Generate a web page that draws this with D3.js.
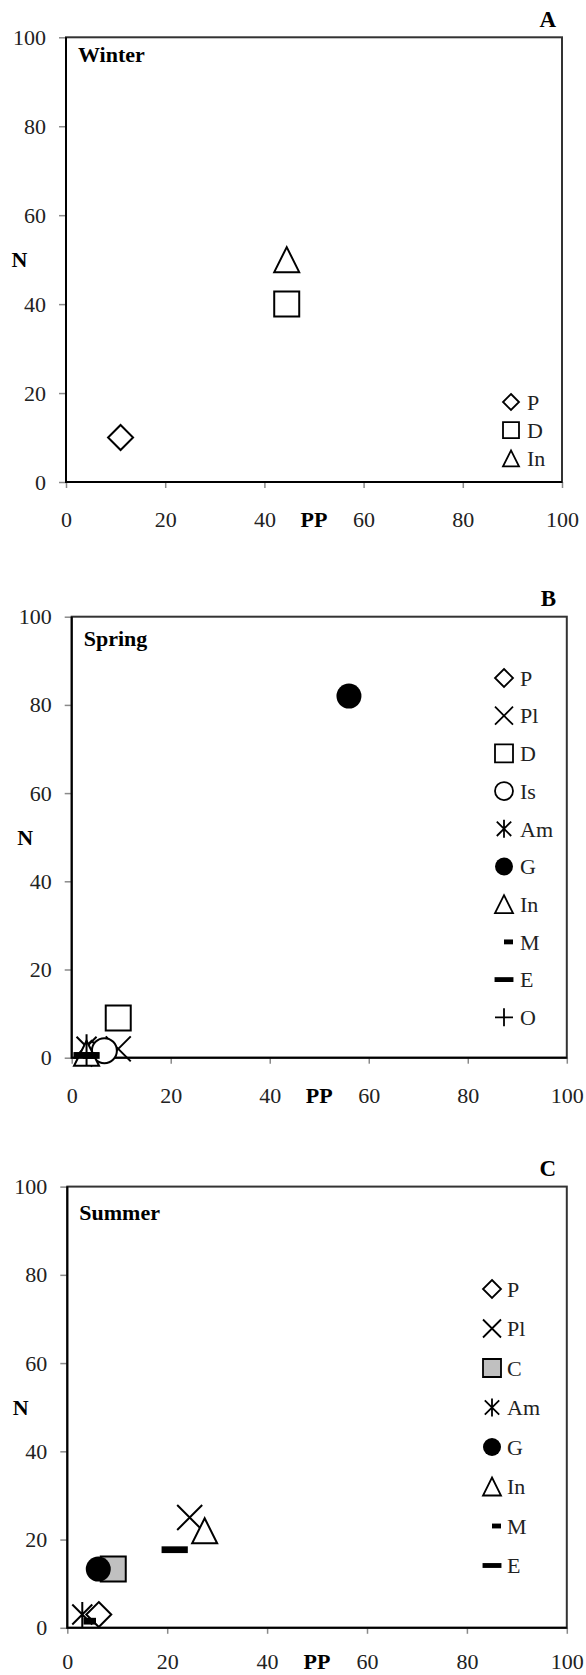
<!DOCTYPE html>
<html>
<head>
<meta charset="utf-8">
<script src="https://cdn.jsdelivr.net/npm/d3@7"></script>
<style>
  body { margin: 0; background: #fff; }
  text { font-family: "Liberation Serif", "Times New Roman", serif; }
</style>
</head>
<body>
<div id="chart"></div>
<script>
// both axes run 0..100
const ticks = [0, 20, 40, 60, 80, 100];

// A - winter
const winterGroups = ["P", "D", "In"];
const winterPP = [11, 44.5, 44.5];
const winterN  = [10, 40, 50];

// B - spring
const springGroups = ["P", "Pl", "D", "Is", "Am", "G", "In", "M", "E", "O"];
const springPP = [4, 9.4, 9.4, 6.6, 3, 56, 3, 3.5, 3, 3];
const springN  = [1, 2, 9, 1.6, 2.5, 82, 1, 0.5, 0.5, 1];

// C - summer
const summerGroups = ["P", "Pl", "C", "Am", "G", "In", "M", "E"];
const summerPP = [6.3, 24.5, 9.2, 3, 6.2, 27.5, 4.5, 21.5];
const summerN  = [3, 25, 13.3, 3, 13.3, 22, 1.5, 17.7];

// marker used for each group
const markerOf = {
    P: "diamond", Pl: "x", D: "square", Is: "circle", Am: "asterisk",
    G: "dot", In: "triangle", M: "dashShort", E: "dashLong", O: "plus", C: "graySquare"
};

// layout of the three panels
const panels = [
    { letter: "A", season: "Winter", groups: winterGroups, pp: winterPP, n: winterN,
      box: [66, 37.3, 562, 482], seasonDy: 25, xLabelDy: 45,
      legend: { x: 511, y: 402, dy: 28.2, size: 16, tx: 527 } },
    { letter: "B", season: "Spring", groups: springGroups, pp: springPP, n: springN,
      box: [71.7, 616.7, 566.8, 1057.7], seasonDy: 29, xLabelDy: 45,
      legend: { x: 504, y: 678, dy: 37.7, size: 18, tx: 520 } },
    { letter: "C", season: "Summer", groups: summerGroups, pp: summerPP, n: summerN,
      box: [67.3, 1186.6, 566.8, 1627.8], seasonDy: 33, xLabelDy: 41,
      legend: { x: 492, y: 1289, dy: 39.5, size: 18, tx: 507 } }
];

const fontSize = 22;

// path + fill for a marker of size s centred on 0,0
function marker(type, s) {
    const h = s / 2;
    const ring = `M${h},0A${h},${h} 0 1,1 ${-h},0A${h},${h} 0 1,1 ${h},0Z`;
    const dash = (w, t) => `M${-w / 2},${-t / 2}h${w}v${t}h${-w}Z`;
    switch (type) {
        case "diamond":    return { d: `M0,${-h}L${h},0L0,${h}L${-h},0Z`, fill: "#fff" };
        case "square":     return { d: `M${-h},${-h}H${h}V${h}H${-h}Z`, fill: "#fff" };
        case "graySquare": return { d: `M${-h},${-h}H${h}V${h}H${-h}Z`, fill: "#c0c0c0" };
        case "triangle":   return { d: `M0,${-h}L${h},${h}L${-h},${h}Z`, fill: "#fff" };
        case "circle":     return { d: ring, fill: "#fff" };
        case "dot":        return { d: ring, fill: "#000", stroke: "none" };
        case "x":          return { d: `M${-h},${-h}L${h},${h}M${-h},${h}L${h},${-h}`, fill: "none" };
        case "asterisk": {
            const a = h * 0.8;
            return { d: `M${-a},${-a}L${a},${a}M${-a},${a}L${a},${-a}M0,${-h}V${h}`, fill: "none" };
        }
        case "plus":       return { d: `M${-h},0H${h}M0,${-h}V${h}`, fill: "none" };
        case "dashShort":  return { d: dash(s * 0.5, s * 0.27), fill: "#000", stroke: "none" };
        case "dashLong":   return { d: dash(s * 1.05, s * 0.27), fill: "#000", stroke: "none" };
    }
}

function addMarker(g, type, cx, cy, s, sw) {
    const m = marker(type, s);
    g.append("path")
        .attr("transform", `translate(${cx},${cy})`)
        .attr("d", m.d)
        .attr("fill", m.fill)
        .attr("stroke", m.stroke || "#000")
        .attr("stroke-width", sw)
        .attr("stroke-linejoin", "miter");
}

const svg = d3.select("#chart").append("svg")
    .attr("width", 586)
    .attr("height", 1675);

panels.forEach(p => {
    const [L, T, R, B] = p.box;
    const x = d3.scaleLinear().domain([0, 100]).range([L, R]);
    const y = d3.scaleLinear().domain([0, 100]).range([B, T]);
    const g = svg.append("g");

    // y axis ticks + labels
    g.append("g")
        .attr("transform", `translate(${L},0)`)
        .call(d3.axisLeft(y).tickValues(ticks).tickSize(7).tickPadding(13))
        .attr("font-family", "Liberation Serif, Times New Roman, serif")
        .attr("font-size", fontSize)
        .call(a => a.select(".domain").remove())
        .call(a => a.selectAll("line").attr("stroke", "#8a8a8a").attr("stroke-width", 1.5))
        .call(a => a.selectAll("text").attr("fill", "#222"));

    // x axis ticks + labels (baseline sits xLabelDy below the axis)
    g.append("g")
        .attr("transform", `translate(0,${B})`)
        .call(d3.axisBottom(x).tickValues(ticks).tickSize(6).tickPadding(p.xLabelDy - 6 - 0.71 * fontSize))
        .attr("font-family", "Liberation Serif, Times New Roman, serif")
        .attr("font-size", fontSize)
        .call(a => a.select(".domain").remove())
        .call(a => a.selectAll("line").attr("stroke", "#8a8a8a").attr("stroke-width", 1.5))
        .call(a => a.selectAll("text").attr("fill", "#222"));

    // plot frame, left and bottom drawn a bit darker
    g.append("rect")
        .attr("x", L).attr("y", T)
        .attr("width", R - L).attr("height", B - T)
        .attr("fill", "none")
        .attr("stroke", "#333")
        .attr("stroke-width", 2);
    g.append("path")
        .attr("d", `M${L},${T}V${B}H${R}`)
        .attr("fill", "none")
        .attr("stroke", "#000")
        .attr("stroke-width", 2);

    // axis titles
    g.append("text")
        .attr("x", x(50)).attr("y", B + p.xLabelDy)
        .attr("text-anchor", "middle")
        .attr("font-weight", "bold")
        .attr("font-size", fontSize)
        .text("PP");
    g.append("text")
        .attr("x", L - 46.5).attr("y", (T + B) / 2)
        .attr("dy", "0.35em")
        .attr("text-anchor", "middle")
        .attr("font-weight", "bold")
        .attr("font-size", fontSize)
        .text("N");

    // panel letter and season
    g.append("text")
        .attr("x", 556).attr("y", T - 10.5)
        .attr("text-anchor", "end")
        .attr("font-weight", "bold")
        .attr("font-size", 23)
        .text(p.letter);
    g.append("text")
        .attr("x", L + 12).attr("y", T + p.seasonDy)
        .attr("font-weight", "bold")
        .attr("font-size", fontSize)
        .text(p.season);

    // points, in series order (later ones on top)
    p.groups.forEach((name, i) => {
        addMarker(g, markerOf[name], x(p.pp[i]), y(p.n[i]), 25, 2);
    });

    // legend
    const lg = p.legend;
    p.groups.forEach((name, i) => {
        const cy = lg.y + i * lg.dy;
        const type = markerOf[name];
        const shift = type === "dashShort" ? lg.size * 0.25 : 0;
        addMarker(g, type, lg.x + shift, cy, lg.size, 1.8);
        g.append("text")
            .attr("x", lg.tx).attr("y", cy)
            .attr("dy", "0.35em")
            .attr("font-size", fontSize)
            .attr("fill", "#222")
            .text(name);
    });
});
</script>
</body>
</html>
